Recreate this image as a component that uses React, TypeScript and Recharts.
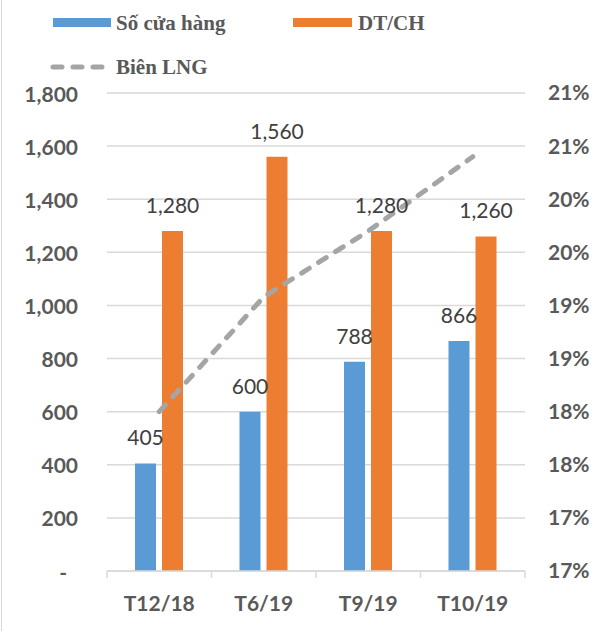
import React from 'react';
import {
  ComposedChart,
  Bar,
  Line,
  XAxis,
  YAxis,
  CartesianGrid,
  LabelList,
} from 'recharts';

const categories = ['T12/18', 'T6/19', 'T9/19', 'T10/19'];
const soCuaHang = [405, 600, 788, 866];
const dtch = [1280, 1560, 1280, 1260];
const bienLng = [18.0, 19.08, 19.7, 20.4];

const leftTicks = [0, 200, 400, 600, 800, 1000, 1200, 1400, 1600, 1800];
const rightTicks = [16.5, 17, 17.5, 18, 18.5, 19, 19.5, 20, 20.5, 21];

const data = categories.map((name, i) => ({
  name,
  stores: soCuaHang[i],
  rev: dtch[i],
  lng: bienLng[i],
}));

const BLUE = '#5B9BD5';
const ORANGE = '#ED7D31';
const GRAY = '#A5A5A5';
const AXIS_TEXT = '#595959';
const GRID = '#D9D9D9';
const FONT = 'Lato, "Open Sans", sans-serif';
const LEGEND_FONT = '"Liberation Serif", "Times New Roman", serif';

const fmt = (v: number) => v.toLocaleString('en-US');

function XTick(props: any) {
  const { x, y, payload, index } = props;
  const half = payload?.offset ?? 52;
  return (
    <g>
      <line x1={x - half} x2={x - half} y1={y} y2={y + 7} stroke={GRID} strokeWidth={1.5} />
      {index === categories.length - 1 && (
        <line x1={x + half} x2={x + half} y1={y} y2={y + 7} stroke={GRID} strokeWidth={1.5} />
      )}
      <text
        x={x}
        y={y + 31}
        textAnchor="middle"
        dominantBaseline="central"
        fill={AXIS_TEXT}
        fontFamily={FONT}
        fontWeight="bold"
        fontSize={21}
      >
        {payload.value}
      </text>
    </g>
  );
}

function LeftTick(props: any) {
  const { x, y, payload } = props;
  const zero = payload.value === 0;
  return (
    <text
      x={zero ? x - 11 : x}
      y={y}
      textAnchor="end"
      dominantBaseline="central"
      fill={AXIS_TEXT}
      fontFamily={FONT}
      fontWeight="bold"
      fontSize={21}
    >
      {zero ? '-' : fmt(payload.value)}
    </text>
  );
}

function Legend() {
  const text: React.CSSProperties = {
    position: 'absolute',
    fontFamily: LEGEND_FONT,
    fontWeight: 'bold',
    fontSize: 21,
    color: AXIS_TEXT,
    lineHeight: '24px',
    whiteSpace: 'nowrap',
  };
  return (
    <>
      <div style={{ position: 'absolute', left: 53, top: 18, width: 58, height: 9, background: BLUE }} />
      <div style={{ ...text, left: 116, top: 11 }}>Số cửa hàng</div>
      <div style={{ position: 'absolute', left: 293, top: 18, width: 59, height: 9, background: ORANGE }} />
      <div style={{ ...text, left: 358, top: 11 }}>DT/CH</div>
      <svg style={{ position: 'absolute', left: 48, top: 60 }} width={64} height={14}>
        <line
          x1={5}
          x2={58}
          y1={7}
          y2={7}
          stroke={GRAY}
          strokeWidth={5}
          strokeDasharray="9 11"
          strokeLinecap="round"
        />
      </svg>
      <div style={{ ...text, left: 116, top: 55 }}>Biên LNG</div>
    </>
  );
}

export default function App() {
  return (
    <div
      style={{
        position: 'absolute',
        left: 0,
        top: 0,
        width: 597,
        height: 631,
        background: '#fff',
      }}
    >
      <div style={{ position: 'absolute', left: 1, top: 0, width: 1, height: 631, background: GRID }} />
      <ComposedChart
        width={597}
        height={631}
        data={data}
        margin={{ top: 93, right: 0, bottom: 0, left: 0 }}
        barSize={21}
        barGap={6}
      >
        <CartesianGrid vertical={false} stroke={GRID} strokeWidth={1.5} yAxisId="left" />
        <XAxis
          dataKey="name"
          height={60}
          axisLine={{ stroke: GRID, strokeWidth: 1.5 }}
          tickLine={false}
          tickSize={0}
          tickMargin={0}
          tick={<XTick />}
          interval={0}
        />
        <YAxis
          yAxisId="left"
          width={107}
          domain={[0, 1800]}
          ticks={leftTicks}
          axisLine={false}
          tickLine={false}
          tickSize={0}
          tickMargin={29}
          tick={<LeftTick />}
          interval={0}
        />
        <YAxis
          yAxisId="right"
          orientation="right"
          width={72}
          domain={[16.5, 21]}
          ticks={rightTicks}
          axisLine={false}
          tickLine={false}
          tickSize={0}
          tickMargin={23}
          interval={0}
          tickFormatter={(v: number) => `${Math.round(v)}%`}
          tick={{ fill: AXIS_TEXT, fontFamily: FONT, fontWeight: 'bold', fontSize: 21 }}
        />
        <Bar yAxisId="left" dataKey="stores" fill={BLUE} isAnimationActive={false}>
          <LabelList
            dataKey="stores"
            position="top"
            offset={18}
            formatter={(v: any) => fmt(Number(v))}
            fill="#404040"
            fontFamily={FONT}
            fontSize={21}
          />
        </Bar>
        <Bar yAxisId="left" dataKey="rev" fill={ORANGE} isAnimationActive={false}>
          <LabelList
            dataKey="rev"
            position="top"
            offset={18}
            formatter={(v: any) => fmt(Number(v))}
            fill="#404040"
            fontFamily={FONT}
            fontSize={21}
          />
        </Bar>
        <Line
          yAxisId="right"
          dataKey="lng"
          type="linear"
          stroke={GRAY}
          strokeWidth={5}
          strokeDasharray="9 11"
          strokeLinecap="round"
          dot={false}
          activeDot={false}
          isAnimationActive={false}
        />
      </ComposedChart>
      <Legend />
    </div>
  );
}
